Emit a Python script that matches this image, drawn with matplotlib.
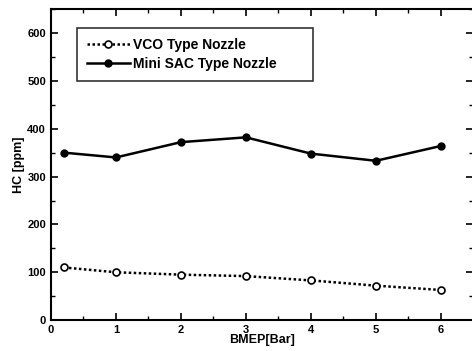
import matplotlib
matplotlib.use('Agg')
import matplotlib.pyplot as plt
from matplotlib.ticker import MultipleLocator

# data
bmep = [0.2, 1, 2, 3, 4, 5, 6]
hc_vco = [110, 100, 95, 92, 83, 72, 63]
hc_minisac = [350, 340, 372, 382, 348, 333, 364]

plt.rcParams['font.family'] = 'Liberation Sans'
plt.rcParams['font.weight'] = 'bold'

fig = plt.figure(figsize=(4.72, 3.51), dpi=100)
ax = fig.add_axes([0.108, 0.088, 0.895, 0.886])

ax.plot(bmep, hc_vco, color='k', ls=(0, (1, 1)), lw=1.8, marker='o', ms=5,
        mfc='white', mec='k', mew=1.2, label='VCO Type Nozzle')
ax.plot(bmep, hc_minisac, color='k', ls='-', lw=1.8, marker='o', ms=5,
        mfc='k', mec='k', label='Mini SAC Type Nozzle')

ax.set_xlim(0, 6.5)
ax.set_ylim(0, 650)
ax.xaxis.set_major_locator(MultipleLocator(1))
ax.xaxis.set_minor_locator(MultipleLocator(0.5))
ax.yaxis.set_major_locator(MultipleLocator(100))
ax.yaxis.set_minor_locator(MultipleLocator(50))
ax.tick_params(which='both', direction='in', top=True, right=True, labelsize=8)
ax.tick_params(which='major', length=5, width=1.2)
ax.tick_params(which='minor', length=3, width=1)
ax.xaxis.set_ticks([0, 1, 2, 3, 4, 5, 6])
for s in ax.spines.values():
    s.set_linewidth(1.5)

ax.set_xlabel('BMEP[Bar]', fontsize=9, fontweight='bold', labelpad=-1)
ax.set_ylabel('HC [ppm]', fontsize=9, fontweight='bold', labelpad=2)

leg = ax.legend(loc='upper left', bbox_to_anchor=(0.062, 0.6, 0.559, 0.34),
                mode='expand', fontsize=10, frameon=True, fancybox=False,
                edgecolor='k', handlelength=3.1, handletextpad=0.25,
                borderpad=0.7, labelspacing=0.4, borderaxespad=0)
leg.get_frame().set_linewidth(1.2)

plt.savefig('out.png', dpi=100)
